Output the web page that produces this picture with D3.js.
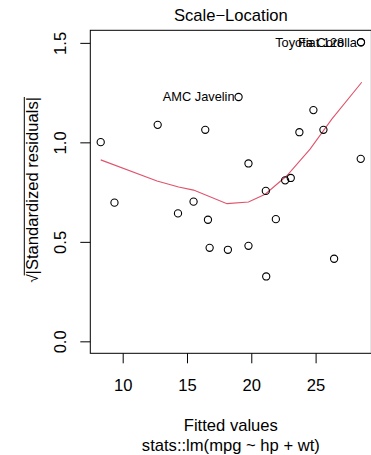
<!DOCTYPE html>
<html>
<head>
<meta charset="utf-8">
<script src="https://cdn.jsdelivr.net/npm/d3@7"></script>
<style>
  html, body { margin: 0; padding: 0; background: #fff; }
  svg { display: block; font-family: "Liberation Sans", Arial, Helvetica, sans-serif; }
</style>
</head>
<body>
<svg id="chart" width="371" height="455"></svg>
<script>
// ---- data ----
const fitted = [28.53, 28.53, 19.01, 24.83, 12.72, 8.29, 16.42, 23.74, 25.61, 19.78,
                28.51, 9.36, 15.51, 14.30, 16.63, 21.13, 22.63, 23.07, 21.91,
                16.76, 18.18, 19.78, 21.16, 26.44];
const sqrtStdRes = [1.503, 1.503, 1.228, 1.162, 1.088, 1.001, 1.063, 1.051, 1.063, 0.894,
                    0.917, 0.697, 0.702, 0.643, 0.611, 0.756, 0.809, 0.821, 0.614,
                    0.470, 0.460, 0.480, 0.326, 0.415];
const pointLabels = ["Toyota Corolla", "Fiat 128", "AMC Javelin", "", "", "", "", "", "", "",
                     "", "", "", "", "", "", "", "", "", "", "", "", "", ""];
const smoothX = [8.29, 12.67, 14.35, 15.51, 18.11, 19.78, 21.08, 22.76, 24.57, 26.26, 28.59];
const smoothY = [0.912, 0.806, 0.776, 0.760, 0.692, 0.700, 0.739, 0.832, 0.966, 1.117, 1.302];
const xTicks = [10, 15, 20, 25];
const yTicks = [0.0, 0.5, 1.0, 1.5];
const title = "Scale\u2212Location";
const xTitle = "Fitted values";
const subTitle = "stats::lm(mpg ~ hp + wt)";
const yTitle = "|Standardized residuals|";

// ---- layout ----
const svg = d3.select("#chart");
const L = 90.3, R = 371.4, T = 30.3, B = 353.3;
const fs = 16.6;
const labFs = 12.8;

const xmin = d3.min(fitted), xmax = d3.max(fitted);
const xpad = (xmax - xmin) * 0.04;
const ymax = d3.max(sqrtStdRes);
const ypad = ymax * 0.04;
const x = d3.scaleLinear().domain([xmin - xpad, xmax + xpad]).range([L, R]);
const y = d3.scaleLinear().domain([0 - ypad, ymax + ypad]).range([B, T]);

// clip
svg.append("defs").append("clipPath").attr("id", "clip")
  .append("rect").attr("x", L).attr("y", T).attr("width", R - L).attr("height", B - T);

// axes
const xAxis = d3.axisBottom(x).tickValues(xTicks).tickSize(10).tickPadding(0).tickFormat(d3.format("d"));
const gx = svg.append("g").attr("transform", `translate(0,${B})`).call(xAxis);
gx.select(".domain").remove();
gx.selectAll(".tick line").attr("stroke", "#000").attr("stroke-width", 1);
gx.selectAll(".tick text").attr("font-size", fs).attr("fill", "#000")
  .attr("dy", null).attr("y", 38);

const yAxis = d3.axisLeft(y).tickValues(yTicks).tickSize(10).tickFormat(d3.format(".1f"));
const gy = svg.append("g").attr("transform", `translate(${L},0)`).call(yAxis);
gy.select(".domain").remove();
gy.selectAll(".tick line").attr("stroke", "#000").attr("stroke-width", 1);
gy.selectAll(".tick text").attr("font-size", fs).attr("fill", "#000")
  .attr("x", null).attr("dy", null)
  .attr("text-anchor", "middle")
  .attr("transform", "translate(-24,0) rotate(-90)")
  .attr("y", 0);

// plot box
svg.append("rect").attr("x", L).attr("y", T).attr("width", R - L).attr("height", B - T)
  .attr("fill", "none").attr("stroke", "#000").attr("stroke-width", 1);

// smoother
svg.append("path")
  .datum(smoothX.map((d, i) => [d, smoothY[i]]))
  .attr("clip-path", "url(#clip)")
  .attr("fill", "none").attr("stroke", "#DF536B").attr("stroke-width", 1.1)
  .attr("d", d3.line().x(d => x(d[0])).y(d => y(d[1])));

// points
const pts = fitted.map((d, i) => ({ fx: d, sy: sqrtStdRes[i], lab: pointLabels[i] }));
svg.append("g").selectAll("circle").data(pts).join("circle")
  .attr("cx", d => x(d.fx)).attr("cy", d => y(d.sy)).attr("r", 3.6)
  .attr("fill", "none").attr("stroke", "#000").attr("stroke-width", 1.1);

// id labels (pos = left for points right of centre); a label on a point that
// coincides with an earlier labelled point is nudged one em further out
const xmid = (xmin + xmax) / 2;
const labelled = pts.filter(d => d.lab);
labelled.forEach((d, i) => {
  d.dup = labelled.slice(0, i).filter(o => o.fx === d.fx && o.sy === d.sy).length;
});
svg.append("g").selectAll("text").data(labelled).join("text")
  .attr("x", d => {
    const off = 4 + d.dup * labFs;
    return d.fx > xmid ? x(d.fx) - off : x(d.fx) + off;
  })
  .attr("y", d => y(d.sy) + 4.5)
  .attr("text-anchor", d => d.fx > xmid ? "end" : "start")
  .attr("font-size", labFs).attr("fill", "#000")
  .text(d => d.lab);

// titles
svg.append("text").attr("x", (L + R) / 2).attr("y", 21).attr("text-anchor", "middle")
  .attr("font-size", fs).attr("fill", "#000").text(title);
svg.append("text").attr("x", (L + R) / 2).attr("y", 431).attr("text-anchor", "middle")
  .attr("font-size", fs).attr("fill", "#000").text(xTitle);
svg.append("text").attr("x", (L + R) / 2).attr("y", 451).attr("text-anchor", "middle")
  .attr("font-size", fs).attr("fill", "#000").text(subTitle);

// y title: sqrt(|Standardized residuals|) with radical and overline
const gyt = svg.append("g").attr("transform", `translate(37.7,${(T + B) / 2 - 2}) rotate(-90)`);
const yt = gyt.append("text").attr("text-anchor", "middle").attr("font-size", fs).attr("fill", "#000");
yt.append("tspan").attr("font-size", fs * 0.9).text("\u221A");
const inner = yt.append("tspan").text(yTitle);
const bb = yt.node().getBBox();
const innerLen = inner.node().getComputedTextLength();
const xEnd = bb.x + bb.width;
gyt.append("line")
  .attr("x1", xEnd - innerLen - 1).attr("x2", xEnd)
  .attr("y1", -13.4).attr("y2", -13.4)
  .attr("stroke", "#000").attr("stroke-width", 1);
</script>
</body>
</html>
